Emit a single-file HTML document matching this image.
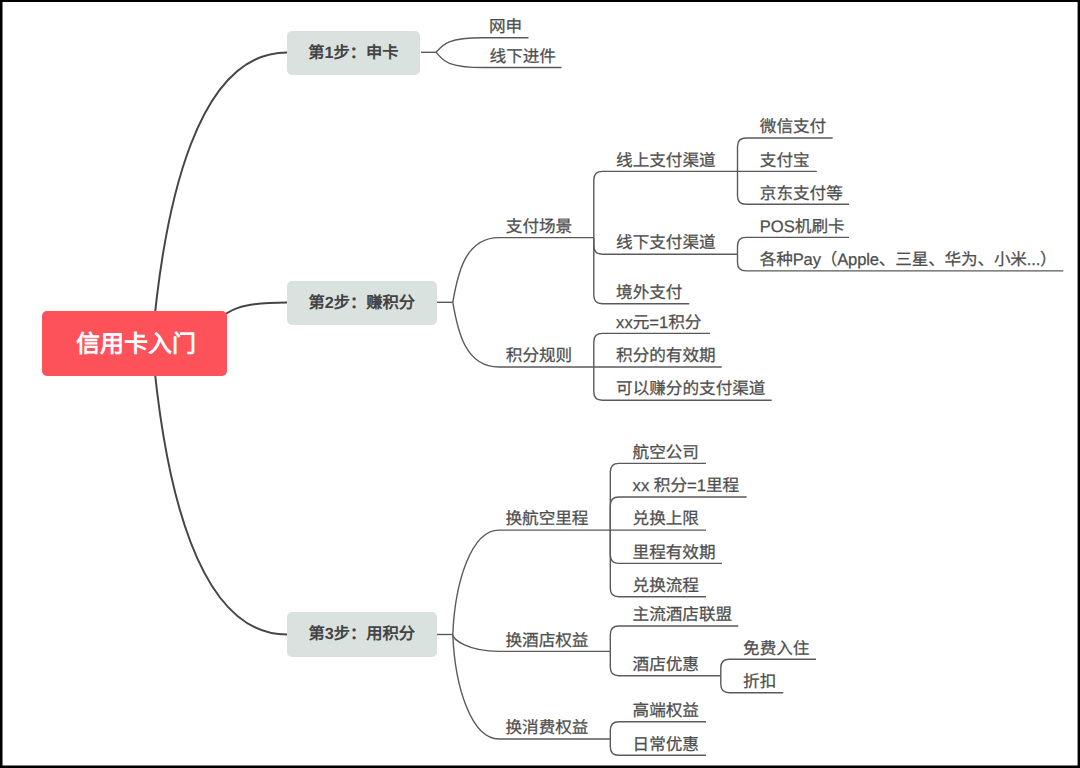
<!DOCTYPE html>
<html lang="zh-CN"><head><meta charset="utf-8"><title>信用卡入门</title>
<style>
html,body{margin:0;padding:0;background:#fff;}
body{width:1080px;height:768px;position:relative;overflow:hidden;font-family:"Liberation Sans",sans-serif;text-rendering:geometricPrecision;}
#bd{position:absolute;left:0;top:0;width:1080px;height:768px;box-sizing:border-box;border-style:solid;border-color:#000;border-width:2px 2.5px 2.5px 2.5px;z-index:5;pointer-events:none}
svg{position:absolute;left:0;top:0}
.t{position:absolute;white-space:nowrap;font-size:16.6px;line-height:20px;color:#4e4e4e;-webkit-text-stroke:0.25px #4e4e4e;}
.box{position:absolute;background:#dae2e0;border-radius:5px;color:#444;font-weight:bold;font-size:16.25px;text-align:center;white-space:nowrap}
.root{position:absolute;left:41.6px;top:310.7px;width:185px;height:65.3px;line-height:67px;background:#fe525a;border-radius:5px;color:#fff;font-weight:bold;font-size:24px;text-align:center;white-space:nowrap;box-sizing:border-box;padding-left:4px}
</style></head><body>
<svg width="1080" height="768" viewBox="0 0 1080 768">
<path d="M152.1 343.5C164.2 201.6 197.8 52.4 287 52.4" stroke="#454545" stroke-width="2" fill="none"/>
<path d="M152.1 343.5C164.2 485.4 197.8 634.6 287 634.6" stroke="#454545" stroke-width="2" fill="none"/>
<path d="M217.4 320.5C227.3 311.5 237.3 302.4 287 302.4" stroke="#454545" stroke-width="2" fill="none"/>
<path d="M421 52.3H436.1" stroke="#5a5a5a" stroke-width="1.4" fill="none"/>
<path d="M436.1 52.3C442.7 44.8 446.6 37.8 482.7 37.8H528.5" stroke="#5a5a5a" stroke-width="1.4" fill="none"/>
<path d="M436.1 52.3C442.7 60.1 446.6 67.5 482.7 67.5H561.5" stroke="#5a5a5a" stroke-width="1.4" fill="none"/>
<path d="M437 302.3H452.8" stroke="#5a5a5a" stroke-width="1.4" fill="none"/>
<path d="M452.8 302.3C457.5 274.8 464.8 237.6 499 237.6H593.8" stroke="#5a5a5a" stroke-width="1.4" fill="none"/>
<path d="M452.8 302.3C457.5 329.8 464.8 367 499 367H593.8" stroke="#5a5a5a" stroke-width="1.4" fill="none"/>
<path d="M593.8 237.6V179.9Q593.8 171.4 602.3 171.4H737.5" stroke="#5a5a5a" stroke-width="1.4" fill="none"/>
<path d="M593.8 237.6V245.7Q593.8 254.2 602.3 254.2H737.5" stroke="#5a5a5a" stroke-width="1.4" fill="none"/>
<path d="M593.8 237.6V295.2Q593.8 303.7 602.3 303.7H689.3" stroke="#5a5a5a" stroke-width="1.4" fill="none"/>
<path d="M593.8 367V341.9Q593.8 333.4 602.3 333.4H710" stroke="#5a5a5a" stroke-width="1.4" fill="none"/>
<path d="M593.8 367H721.7" stroke="#5a5a5a" stroke-width="1.4" fill="none"/>
<path d="M593.8 367V391.7Q593.8 400.2 602.3 400.2H771.7" stroke="#5a5a5a" stroke-width="1.4" fill="none"/>
<path d="M737.5 171.4V146.5Q737.5 138 746.0 138H832.7" stroke="#5a5a5a" stroke-width="1.4" fill="none"/>
<path d="M737.5 171.4H816.7" stroke="#5a5a5a" stroke-width="1.4" fill="none"/>
<path d="M737.5 171.4V195.8Q737.5 204.3 746.0 204.3H849" stroke="#5a5a5a" stroke-width="1.4" fill="none"/>
<path d="M737.5 254.2V245.9Q737.5 237.4 746.0 237.4H849" stroke="#5a5a5a" stroke-width="1.4" fill="none"/>
<path d="M737.5 254.2V262.4Q737.5 270.9 746.0 270.9H1063.3" stroke="#5a5a5a" stroke-width="1.4" fill="none"/>
<path d="M437 634.5H452.8" stroke="#5a5a5a" stroke-width="1.4" fill="none"/>
<path d="M452.8 634.5C454.9 582.4 471.2 530.1 499 530.1H610.3" stroke="#5a5a5a" stroke-width="1.4" fill="none"/>
<path d="M452.8 634.5C452.4 639.2 467.4 651.4 499 651.4H610.3" stroke="#5a5a5a" stroke-width="1.4" fill="none"/>
<path d="M452.8 634.5C454.9 686.6 471.2 739 499 739H610.3" stroke="#5a5a5a" stroke-width="1.4" fill="none"/>
<path d="M610.3 530.1V471.9Q610.3 463.4 618.8 463.4H706" stroke="#5a5a5a" stroke-width="1.4" fill="none"/>
<path d="M610.3 530.1V505.5Q610.3 497 618.8 497H746.7" stroke="#5a5a5a" stroke-width="1.4" fill="none"/>
<path d="M610.3 530.1H706" stroke="#5a5a5a" stroke-width="1.4" fill="none"/>
<path d="M610.3 530.1V554.9Q610.3 563.4 618.8 563.4H722" stroke="#5a5a5a" stroke-width="1.4" fill="none"/>
<path d="M610.3 530.1V588.2Q610.3 596.7 618.8 596.7H706" stroke="#5a5a5a" stroke-width="1.4" fill="none"/>
<path d="M610.3 651.4V634.5Q610.3 626 618.8 626H738.3" stroke="#5a5a5a" stroke-width="1.4" fill="none"/>
<path d="M610.3 651.4V667.2Q610.3 675.7 618.8 675.7H720.8" stroke="#5a5a5a" stroke-width="1.4" fill="none"/>
<path d="M720.8 675.7V667.8Q720.8 659.3 729.3 659.3H816" stroke="#5a5a5a" stroke-width="1.4" fill="none"/>
<path d="M720.8 675.7V684.2Q720.8 692.7 729.3 692.7H783.3" stroke="#5a5a5a" stroke-width="1.4" fill="none"/>
<path d="M610.3 739V730.2Q610.3 721.7 618.8 721.7H706" stroke="#5a5a5a" stroke-width="1.4" fill="none"/>
<path d="M610.3 739V746.8Q610.3 755.3 618.8 755.3H706" stroke="#5a5a5a" stroke-width="1.4" fill="none"/>
</svg>
<div class="root">信用卡入门</div>
<div class="box" style="left:286.7px;top:30.5px;width:133.4px;height:44px;line-height:44.5px">第1步：申卡</div>
<div class="box" style="left:286.7px;top:280.5px;width:150.3px;height:44px;line-height:44px">第2步：赚积分</div>
<div class="box" style="left:286.7px;top:612.4px;width:150.3px;height:44.4px;line-height:45px">第3步：用积分</div>
<div class="t" style="left:489.0px;top:17.0px">网申</div>
<div class="t" style="left:489.6px;top:46.7px">线下进件</div>
<div class="t" style="left:505.8px;top:216.8px">支付场景</div>
<div class="t" style="left:505.8px;top:346.2px">积分规则</div>
<div class="t" style="left:616.1px;top:150.6px">线上支付渠道</div>
<div class="t" style="left:616.1px;top:233.4px">线下支付渠道</div>
<div class="t" style="left:616.1px;top:282.9px">境外支付</div>
<div class="t" style="left:616.1px;top:312.6px">xx元=1积分</div>
<div class="t" style="left:616.1px;top:346.2px">积分的有效期</div>
<div class="t" style="left:616.1px;top:379.4px">可以赚分的支付渠道</div>
<div class="t" style="left:759.8px;top:117.2px">微信支付</div>
<div class="t" style="left:759.8px;top:150.6px">支付宝</div>
<div class="t" style="left:759.8px;top:183.5px">京东支付等</div>
<div class="t" style="left:759.8px;top:216.6px">POS机刷卡</div>
<div class="t" style="left:759.8px;top:250.1px"><span style="letter-spacing:-0.16px">各种Pay（Apple、三星、华为、小米...）</span></div>
<div class="t" style="left:505.5px;top:509.3px">换航空里程</div>
<div class="t" style="left:505.5px;top:630.6px">换酒店权益</div>
<div class="t" style="left:505.5px;top:718.2px">换消费权益</div>
<div class="t" style="left:632.6px;top:442.6px">航空公司</div>
<div class="t" style="left:632.6px;top:476.2px">xx 积分=1里程</div>
<div class="t" style="left:632.6px;top:509.3px">兑换上限</div>
<div class="t" style="left:632.6px;top:542.6px">里程有效期</div>
<div class="t" style="left:632.6px;top:575.9px">兑换流程</div>
<div class="t" style="left:632.6px;top:605.2px">主流酒店联盟</div>
<div class="t" style="left:632.6px;top:654.9px">酒店优惠</div>
<div class="t" style="left:743.1px;top:638.5px">免费入住</div>
<div class="t" style="left:743.1px;top:671.9px">折扣</div>
<div class="t" style="left:632.6px;top:700.9px">高端权益</div>
<div class="t" style="left:632.6px;top:734.5px">日常优惠</div>
<svg width="1080" height="768" viewBox="0 0 1080 768" style="z-index:5"><path d="M0 0H1080V768H0ZM2.5 2V765.4H1077.6V2Z" fill="#000" fill-rule="evenodd"/></svg>
</body></html>
